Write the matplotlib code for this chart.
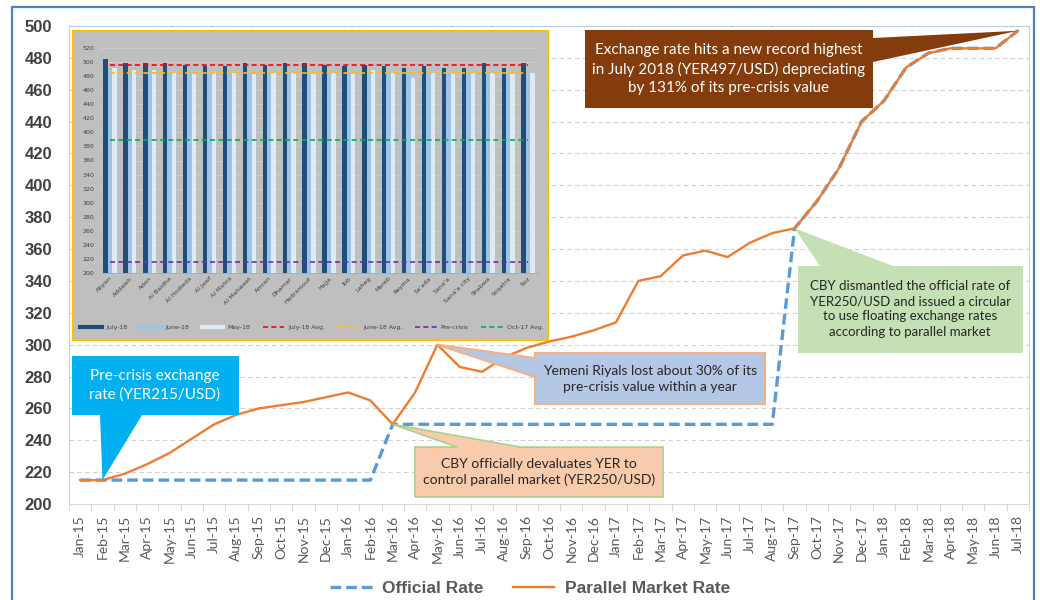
import matplotlib
matplotlib.use('Agg')
import matplotlib.pyplot as plt
from matplotlib import font_manager
from matplotlib.patches import Polygon, Rectangle
from matplotlib.lines import Line2D
import numpy as np

# ---------------- data ----------------
months = ['Jan-15', 'Feb-15', 'Mar-15', 'Apr-15', 'May-15', 'Jun-15', 'Jul-15', 'Aug-15',
          'Sep-15', 'Oct-15', 'Nov-15', 'Dec-15', 'Jan-16', 'Feb-16', 'Mar-16', 'Apr-16',
          'May-16', 'Jun-16', 'Jul-16', 'Aug-16', 'Sep-16', 'Oct-16', 'Nov-16', 'Dec-16',
          'Jan-17', 'Feb-17', 'Mar-17', 'Apr-17', 'May-17', 'Jun-17', 'Jul-17', 'Aug-17',
          'Sep-17', 'Oct-17', 'Nov-17', 'Dec-17', 'Jan-18', 'Feb-18', 'Mar-18', 'Apr-18',
          'May-18', 'Jun-18', 'Jul-18']
official = [215, 215, 215, 215, 215, 215, 215, 215, 215, 215, 215, 215, 215, 215,
            250, 250, 250, 250, 250, 250, 250, 250, 250, 250, 250, 250, 250, 250,
            250, 250, 250, 250,
            373, 390, 411, 440, 453, 474, 483, 486, 486, 486, 497]
parallel = [215, 215, 219, 225, 232, 241, 250, 256, 260, 262, 264, 267, 270, 265,
            250, 270, 300, 286, 283, 292, 298, 302, 305, 309, 314, 340, 343, 356,
            359, 355, 364, 370, 373, 390, 411, 440, 453, 474, 483, 486, 486, 486, 497]

regions = ['Abyan', 'Addaleh', 'Aden', 'Al Baidha', 'Al Hodieda', 'Al Jawf', 'Al Mahra',
           'Al Mahweet', 'Amran', 'Dhamar', 'Hadramout', 'Hajja', 'Ibb', 'Laheg', 'Mareb',
           'Reyma', "Sa'ada", "Sana'a", "Sana'a city", 'Shabwa', 'Soqatra', 'Taiz']
jul18 = [504, 498, 498, 498, 496, 494, 495, 499, 496, 499, 498, 496, 495, 496, 494,
         491, 495, 492, 491, 498, 491, 499]
jun18 = [491, 485, 487, 485, 484, 484, 484, 484, 484, 484, 484, 485, 484, 488, 484,
         483, 484, 484, 484, 484, 484, 484]
may18 = [492, 489, 489, 484, 483, 484, 485, 483, 485, 484, 483, 485, 483, 489, 485,
         477, 485, 484, 484, 484, 485, 485]
avg_jul18 = 496
avg_jun18 = 484.5
pre_crisis = 215
avg_oct17 = 389
inset_legend = ['July-18', 'June-18', 'May-18', 'July-18 Avg.', 'June-18 Avg.',
                'Pre-crisis', 'Oct-17 Avg.']

# ---------------- fonts ----------------
avail = {f.name for f in font_manager.fontManager.ttflist}
def pick(*names):
    for n in names:
        if n in avail:
            return n
    return 'DejaVu Sans'
F_AX = pick('Liberation Sans', 'Arial')
F_TXT = pick('Lato', 'Open Sans', 'Liberation Sans')

W, H = 1040, 600
fig = plt.figure(figsize=(W / 100, H / 100), dpi=100)
fig.patch.set_facecolor('white')

def fx(x):
    return x / W

def fy(y):
    return 1 - y / H

# outer blue frame
fig.add_artist(Rectangle((fx(12), fy(612)), fx(1034) - fx(12), fy(7) - fy(612),
                         transform=fig.transFigure, fill=False, ec='#4f81bd', lw=1.6,
                         zorder=0.5))

# ---------------- main axes ----------------
ax = fig.add_axes([fx(69), fy(504), fx(1029) - fx(69), fy(26) - fy(504)])
ax.set_zorder(1)
x = np.arange(len(months))
ax.plot(x, official, color='#5b9bd5', lw=2.4, ls=(0, (3.2, 1.5)), zorder=3,
        dash_capstyle='butt', label='Official Rate')
ax.plot(x, parallel, color='#ed7d31', lw=1.7, zorder=4, label='Parallel Market Rate')
ax.set_xlim(-0.5, len(months) - 0.5)
ax.set_ylim(200, 500)
ax.set_yticks(np.arange(200, 501, 20))
ax.yaxis.grid(True, color='#d0d0d0', ls=(0, (4, 3)), lw=0.8)
ax.set_axisbelow(True)
ax.set_xticks(x)
ax.set_xticklabels(months, rotation=90, fontsize=10, color='#595959', family=F_TXT)
ax.set_xticks(np.arange(-0.5, len(months)), minor=True)
ax.tick_params(axis='x', which='major', length=0, pad=8)
ax.tick_params(axis='x', which='minor', length=5, color='#d9d9d9', width=0.8)
ax.tick_params(axis='y', length=0, pad=12)
for lab in ax.get_yticklabels():
    lab.set_fontsize(12)
    lab.set_fontweight('bold')
    lab.set_color('#404040')
    lab.set_family(F_AX)
ax.spines['left'].set_color('#bdd7ee')
ax.spines['right'].set_color('#bdd7ee')
ax.spines['top'].set_color('#b4c7e7')
ax.spines['top'].set_linestyle((0, (1.5, 1.5)))
ax.spines['bottom'].set_color('#d9d9d9')

leg = fig.legend(handles=ax.get_lines(), loc='center', bbox_to_anchor=(fx(530), fy(588)),
                 ncol=2, frameon=False, handlelength=2.4, handletextpad=0.6,
                 columnspacing=1.7, prop={'family': F_AX, 'weight': 'bold', 'size': 12.5})
for t in leg.get_texts():
    t.set_color('#595959')

# ---------------- inset ----------------
fig.add_artist(Rectangle((fx(73), fy(340)), fx(548) - fx(73), fy(31) - fy(340),
                         transform=fig.transFigure, fc='#bfbfbf', ec='#ffc000', lw=1.5,
                         zorder=1.5))
iax = fig.add_axes([fx(100), fy(273), fx(538) - fx(100), fy(48) - fy(273)])
iax.set_zorder(2)
iax.patch.set_visible(False)
xi = np.arange(len(regions))
bw = 0.22
iax.bar(xi - bw, jul18, bw, color='#1f4e79', zorder=2)
iax.bar(xi, jun18, bw, color='#9dc3e6', zorder=2)
iax.bar(xi + bw, may18, bw, color='#deebf7', zorder=2)
xs = [xi[0], xi[-1]]
iax.plot(xs, [avg_jul18] * 2, color='#ff0000', lw=1.2, ls=(0, (3, 2)), zorder=3)
iax.plot(xs, [avg_jun18] * 2, color='#ffc000', lw=1.2, ls=(0, (3, 2)), zorder=3)
iax.plot(xs, [pre_crisis] * 2, color='#7030a0', lw=1.2, ls=(0, (3, 2)), zorder=3)
iax.plot(xs, [avg_oct17] * 2, color='#00b050', lw=1.2, ls=(0, (3, 2)), zorder=3)
iax.set_xlim(-0.5, len(regions) - 0.5)
iax.set_ylim(200, 520)
iax.set_yticks(np.arange(200, 521, 20))
iax.yaxis.grid(True, color='#cfcfcf', lw=0.5)
iax.set_axisbelow(True)
iax.set_xticks(xi)
iax.set_xticklabels(regions, rotation=45, ha='right', rotation_mode='anchor',
                    fontsize=4.5, color='#404040')
iax.tick_params(axis='both', length=0, labelsize=4.5, labelcolor='#404040')
iax.tick_params(axis='y', pad=4)
iax.tick_params(axis='x', pad=2)
for s in iax.spines.values():
    s.set_visible(False)
iax.spines['bottom'].set_visible(True)
iax.spines['bottom'].set_color('#a6a6a6')
iax.spines['bottom'].set_linewidth(0.5)

ih = [Line2D([], [], color='#1f4e79', lw=3),
      Line2D([], [], color='#9dc3e6', lw=3),
      Line2D([], [], color='#deebf7', lw=3),
      Line2D([], [], color='#ff0000', lw=1.2, ls=(0, (3, 2))),
      Line2D([], [], color='#ffc000', lw=1.2, ls=(0, (3, 2))),
      Line2D([], [], color='#7030a0', lw=1.2, ls=(0, (3, 2))),
      Line2D([], [], color='#00b050', lw=1.2, ls=(0, (3, 2)))]
ileg = fig.legend(handles=ih, labels=inset_legend, loc='center',
                  bbox_to_anchor=(fx(312), fy(327)), ncol=7, frameon=False,
                  fontsize=4.5, handlelength=3.5, handletextpad=0.6, columnspacing=2.0)
ileg.set_zorder(3)
for t in ileg.get_texts():
    t.set_color('#404040')

# ---------------- callouts ----------------
inv = fig.transFigure.inverted()

def tip(i, v):
    return tuple(inv.transform(ax.transData.transform((i, v))))

def callout(verts, txt, center, fc, ec, tc, size, lw=0.0, ls=1.3):
    fig.add_artist(Polygon(verts, closed=True, transform=fig.transFigure, fc=fc,
                           ec=ec if ec else fc, lw=lw, zorder=5))
    fig.text(fx(center[0]), fy(center[1]), txt, ha='center', va='center', color=tc,
             fontsize=size, family=F_TXT, linespacing=ls, zorder=6)

def P(px, py):
    return (fx(px), fy(py))

# brown: record high
t = tip(42, parallel[42])
callout([P(585, 30), P(873, 30), P(873, 38), t, P(873, 62), P(873, 108), P(585, 108)],
        'Exchange rate hits a new record highest\nin July 2018 (YER497/USD) depreciating\nby 131% of its pre-crisis value',
        (729, 69), '#843c0c', None, 'white', 11, ls=1.35)

# cyan: pre-crisis
t = tip(1, parallel[1])
callout([P(72, 356), P(239, 356), P(239, 415), P(142, 415), t, P(100, 415), P(72, 415)],
        'Pre-crisis exchange\nrate (YER215/USD)', (155, 385), '#00b0f0', None, 'white', 11,
        ls=1.4)

# blue: 30% loss
t = tip(16, parallel[16])
callout([P(535, 353), P(765, 353), P(765, 404), P(535, 404), P(535, 377), t, P(535, 358)],
        "Yemeni Riyals lost about 30% of its\npre-crisis value within a year", (650, 379),
        '#b4c7e7', '#f4b183', '#262626', 10, lw=1.5, ls=1.35)

# peach: devaluation
t = tip(14, official[14])
callout([P(415, 447), P(457, 447), t, P(520, 447), P(663, 447), P(663, 497), P(415, 497)],
        'CBY officially devaluates YER to\ncontrol parallel market (YER250/USD)', (539, 472),
        '#f8cbad', '#a9d18e', '#262626', 10, lw=1.2, ls=1.35)

# green: floating
t = tip(32, parallel[32])
callout([P(798, 266), P(820, 266), t, P(893, 266), P(1023, 266), P(1023, 353), P(798, 353)],
        'CBY dismantled the official rate of\nYER250/USD and issued a circular\nto use floating exchange rates\naccording to parallel market',
        (910, 309), '#c5e0b4', None, '#262626', 9.5, ls=1.3)

fig.savefig('out.png', dpi=100, facecolor='white')
